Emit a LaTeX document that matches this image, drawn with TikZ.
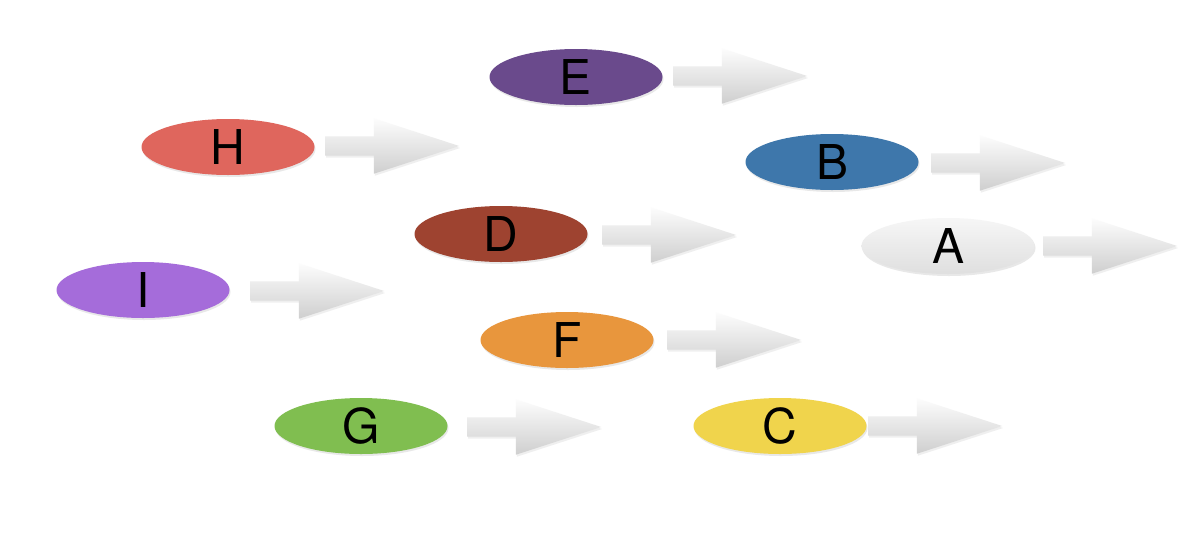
\documentclass[tikz,border=0pt]{standalone}
\usepackage{fontspec}
\setmainfont{TeX Gyre Heros}
\usetikzlibrary{shapes.geometric,shapes.arrows,shadows}
\definecolor{cE}{HTML}{6A4A8C}
\definecolor{cH}{HTML}{DF665D}
\definecolor{cB}{HTML}{3E77AB}
\definecolor{cD}{HTML}{9E4330}
\definecolor{cI}{HTML}{A56CDA}
\definecolor{cF}{HTML}{E8963D}
\definecolor{cG}{HTML}{80BE50}
\definecolor{cC}{HTML}{F0D44C}
\tikzset{
  oval/.style={ellipse, inner sep=0pt, minimum width=173pt, minimum height=56pt,
    font=\fontsize{48}{48}\selectfont, text=black,
    drop shadow={shadow xshift=1pt, shadow yshift=-2pt, opacity=0.18}},
  goarrow/.style={single arrow, draw=none, inner xsep=0pt, inner ysep=9.5pt,
    text width=0pt, text height=0pt, text depth=0pt,
    single arrow head extend=18pt, single arrow tip angle=36,
    single arrow head indent=0pt, minimum height=134pt,
    top color=white!98!gray, bottom color=gray!38, anchor=west,
    drop shadow={shadow xshift=1pt, shadow yshift=-2pt, opacity=0.12}}
}
\begin{document}
\begin{tikzpicture}[x=1pt,y=-1pt]
\useasboundingbox[fill=white] (0,0) rectangle (1200,547);
% ovals
\node[oval, fill=cE] (E) at (576,77) {E};
\node[oval, fill=cH] (H) at (228,147) {H};
\node[oval, fill=cB] (B) at (832,162) {B};
\node[oval, fill=cD] (D) at (501,234) {D};
\node[oval, top color=white!93!gray, bottom color=gray!25] (A) at (948,246) {A};
\node[oval, fill=cI] (I) at (143,290) {I};
\node[oval, fill=cF] (F) at (567,340) {F};
\node[oval, fill=cG] (G) at (361,426) {G};
\node[oval, fill=cC] (C) at (780,426) {C};
% arrows
\node[goarrow] (aE) at (673,76) {};
\node[goarrow] (aH) at (325,146) {};
\node[goarrow] (aB) at (931,163) {};
\node[goarrow] (aD) at (602,235) {};
\node[goarrow] (aA) at (1043,246) {};
\node[goarrow] (aI) at (250,291) {};
\node[goarrow] (aF) at (667,340) {};
\node[goarrow] (aG) at (467,427) {};
\node[goarrow] (aC) at (868,426) {};
\end{tikzpicture}
\end{document}
